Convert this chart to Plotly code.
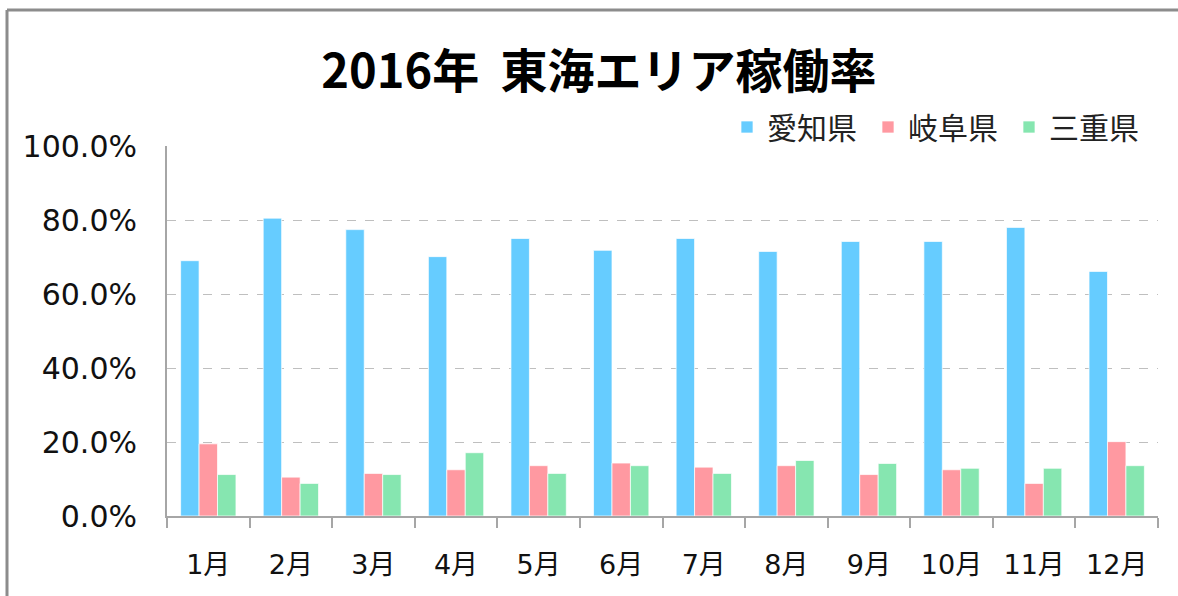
import plotly.graph_objects as go

months = ["1月", "2月", "3月", "4月", "5月", "6月", "7月", "8月", "9月", "10月", "11月", "12月"]
aichi = [0.690, 0.805, 0.774, 0.701, 0.750, 0.718, 0.750, 0.715, 0.742, 0.742, 0.780, 0.661]
gifu = [0.195, 0.105, 0.115, 0.125, 0.136, 0.143, 0.132, 0.136, 0.112, 0.125, 0.088, 0.201]
mie = [0.112, 0.088, 0.112, 0.171, 0.115, 0.136, 0.115, 0.150, 0.142, 0.129, 0.129, 0.136]

series = [("愛知県", aichi, "#66CCFF"), ("岐阜県", gifu, "#FF99A1"), ("三重県", mie, "#86E6B0")]

fig = go.Figure()
for name, vals, col in series:
    fig.add_trace(go.Bar(
        x=months, y=vals, name=name + "\u2009",
        marker=dict(color=col, line=dict(color="rgba(255,255,255,0.7)", width=1)),
    ))

L, R, T, B = 167, 20, 146, 80
W, H = 1178, 596
pw, ph = W - L - R, H - T - B

def px_x(x):
    return (x - L) / pw

def px_y(y):
    return (H - B - y) / ph

fig.update_layout(
    width=W, height=H,
    margin=dict(l=L, r=R, t=T, b=B),
    paper_bgcolor="white", plot_bgcolor="white",
    barmode="group", bargap=0.33, bargroupgap=0,
    title=dict(text="2016年\u00a0\u00a0東海エリア稼働率", x=599 / W, xanchor="center",
               y=1 - 72 / H, yanchor="middle",
               font=dict(family="Noto Sans CJK JP", size=47, color="black", weight="bold")),
    legend=dict(orientation="h", x=px_x(1150), xanchor="right", y=px_y(127), yanchor="middle",
                font=dict(family="Noto Sans CJK JP", size=30, color="#222"),
                itemwidth=30, traceorder="normal", bgcolor="rgba(0,0,0,0)"),
    xaxis=dict(type="category", showline=True, linecolor="#A6A6A6", linewidth=2,
               ticks="outside", tickson="boundaries", ticklen=10, tickcolor="#A6A6A6", tickwidth=2,
               ticklabelstandoff=24,
               tickfont=dict(family="DejaVu Sans, Noto Sans CJK JP", size=27, color="#111"),
               showgrid=False),
    yaxis=dict(range=[0, 1], dtick=0.2, tickformat=".1%", showline=True, linecolor="#A6A6A6",
               linewidth=2, showgrid=True, gridcolor="#BFBFBF", griddash="dash", gridwidth=1,
               zeroline=False, ticks="", ticklabelstandoff=22,
               tickfont=dict(family="DejaVu Sans", size=30, color="#111")),
    shapes=[
        dict(type="line", xref="paper", yref="paper", x0=px_x(7), x1=px_x(1180),
             y0=px_y(10), y1=px_y(10), line=dict(color="#8C8C8C", width=3)),
        dict(type="line", xref="paper", yref="paper", x0=px_x(7), x1=px_x(7),
             y0=px_y(10), y1=px_y(600), line=dict(color="#8C8C8C", width=3)),
    ],
)

fig.write_html("out.html", config={"displayModeBar": False},
               post_script="document.body.style.margin='0';")
